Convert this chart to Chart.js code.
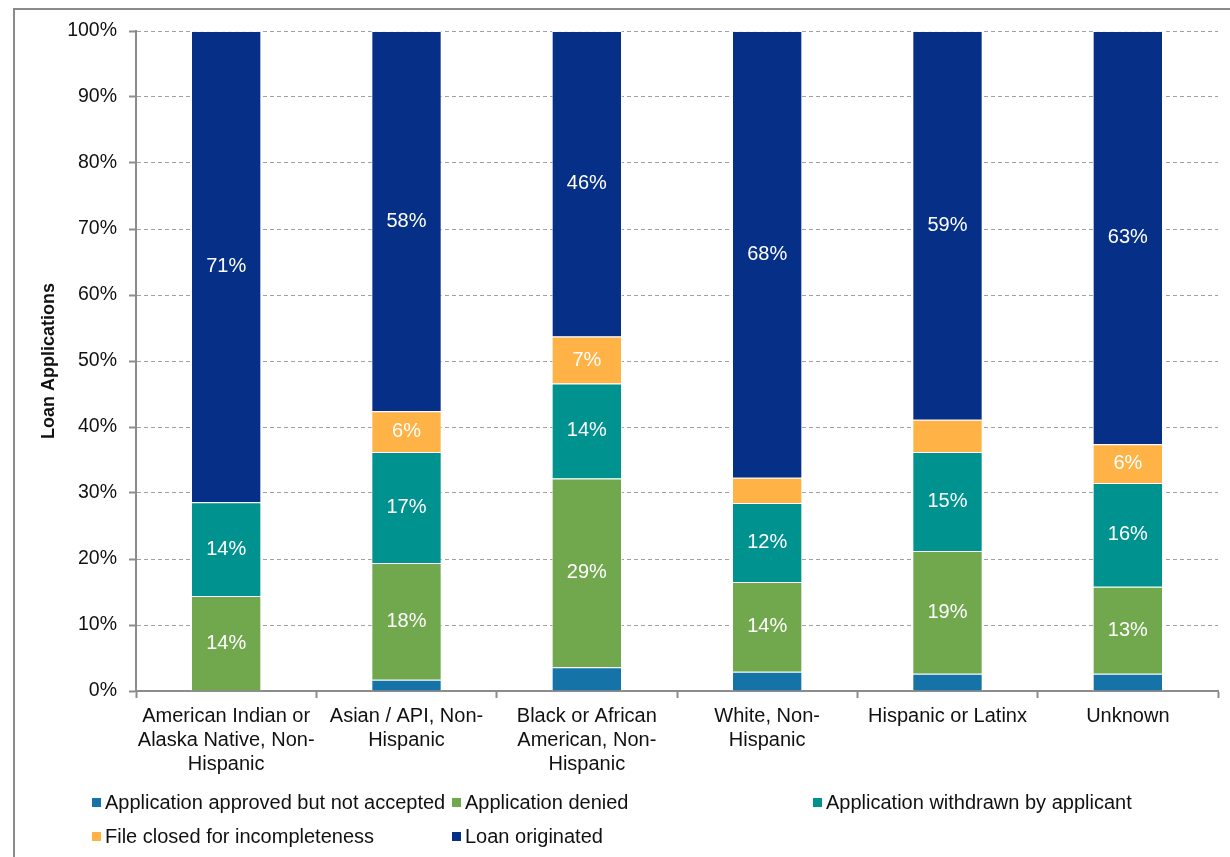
<!DOCTYPE html>
<html>
<head>
<meta charset="utf-8">
<script src="https://cdn.jsdelivr.net/npm/chart.js@4.4.1/dist/chart.umd.min.js"></script>
<style>
  html, body { margin: 0; padding: 0; background: #fff; }
  #wrap { position: relative; width: 1230px; height: 857px; overflow: hidden; }
  #frame { position: absolute; left: 13px; top: 8px; width: 1300px; height: 900px; border: 2px solid #8a8a8a; box-sizing: border-box; }
  #chart { position: absolute; left: 0; top: 0; }
  .leg { position: absolute; font-family: "Liberation Sans", Arial, sans-serif; font-size: 20px; color: #111; white-space: nowrap; line-height: 22px; }
  .leg i { display: inline-block; width: 9px; height: 9px; margin-right: 4px; vertical-align: 2px; }
</style>
</head>
<body>
<div id="wrap">
  <div id="frame"></div>
  <canvas id="chart" width="1230" height="857"></canvas>
  <div id="legend"></div>
</div>
<script>
// Categorias e séries (percentual das solicitações)
const categories = [
  ["American Indian or", "Alaska Native, Non-", "Hispanic"],
  ["Asian / API, Non-", "Hispanic"],
  ["Black or African", "American, Non-", "Hispanic"],
  ["White, Non-", "Hispanic"],
  ["Hispanic or Latinx"],
  ["Unknown"]
];
const approvedNotAccepted = [0, 1.7, 3.6, 2.9, 2.6, 2.6];
const denied = [14.4, 17.7, 28.6, 13.6, 18.6, 13.2];
const withdrawn = [14.2, 16.8, 14.4, 12.0, 15.0, 15.7];
const fileClosed = [0, 6.2, 7.1, 3.8, 4.9, 5.9];
const loanOriginated = [71.4, 57.6, 46.3, 67.7, 58.9, 62.6];
const yTicks = [0, 10, 20, 30, 40, 50, 60, 70, 80, 90, 100];

const seriesNames = [
  "Application approved but not accepted",
  "Application denied",
  "Application withdrawn by applicant",
  "File closed for incompleteness",
  "Loan originated"
];
const seriesColors = ['#1673a8', '#71a84e', '#00928f', '#ffb347', '#062f87'];
const seriesValues = [approvedNotAccepted, denied, withdrawn, fileClosed, loanOriginated];

const font = "'Liberation Sans', Arial, sans-serif";

// rótulos brancos dentro das barras
const barLabels = {
  id: 'barLabels',
  afterDatasetsDraw(chart) {
    const ctx = chart.ctx;
    ctx.save();
    ctx.fillStyle = '#fff';
    ctx.font = '20px ' + font;
    ctx.textAlign = 'center';
    ctx.textBaseline = 'middle';
    chart.data.datasets.forEach((ds, i) => {
      const meta = chart.getDatasetMeta(i);
      meta.data.forEach((bar, j) => {
        const v = ds.data[j];
        if (v < 5.5) return;
        ctx.fillText(Math.round(v) + '%', bar.x, (bar.y + bar.base) / 2);
      });
    });
    ctx.restore();
  }
};

new Chart(document.getElementById('chart'), {
  type: 'bar',
  data: {
    labels: categories,
    datasets: seriesNames.map((name, i) => ({
      label: name,
      data: seriesValues[i],
      backgroundColor: seriesColors[i],
      borderColor: 'rgba(255,255,255,0.85)',
      borderWidth: 1,
      barPercentage: 0.39,
      categoryPercentage: 1
    }))
  },
  options: {
    responsive: false,
    animation: false,
    layout: { padding: { left: 38, top: 31, right: 12, bottom: 76 } },
    plugins: {
      legend: { display: false },
      tooltip: { enabled: false }
    },
    scales: {
      x: {
        stacked: true,
        afterFit(s) { s.height = 90; },
        border: { color: '#8c8c8c', width: 2 },
        grid: { drawOnChartArea: false, drawTicks: true, tickLength: 7, tickColor: '#8c8c8c', tickWidth: 2, offset: true },
        ticks: { color: '#111', font: { family: font, size: 20 }, padding: 6, maxRotation: 0, autoSkip: false }
      },
      y: {
        stacked: true,
        min: 0,
        max: 100,
        afterFit(s) { s.width = 98; },
        afterBuildTicks(s) { s.ticks = yTicks.map(v => ({ value: v })); },
        border: { color: '#8c8c8c', width: 2, dash: [4, 3] },
        grid: { color: '#a0a0a0', lineWidth: 1, tickBorderDash: [], tickColor: '#8c8c8c', tickWidth: 2, tickLength: 7 },
        ticks: { color: '#111', font: { family: font, size: 19.5 }, padding: 12, callback: v => v + '%' },
        title: { display: true, text: 'Loan Applications', color: '#111', font: { family: font, size: 18, weight: 'bold' }, padding: 0 }
      }
    }
  },
  plugins: [barLabels]
});

// legenda em grade, como no original
const legendPos = [[92, 802], [452, 802], [813, 802], [92, 836], [452, 836]];
const legend = document.getElementById('legend');
seriesNames.forEach((name, i) => {
  const d = document.createElement('div');
  d.className = 'leg';
  d.style.left = legendPos[i][0] + 'px';
  d.style.top = (legendPos[i][1] - 11) + 'px';
  d.innerHTML = '<i style="background:' + seriesColors[i] + '"></i>' + name;
  legend.appendChild(d);
});
</script>
</body>
</html>
